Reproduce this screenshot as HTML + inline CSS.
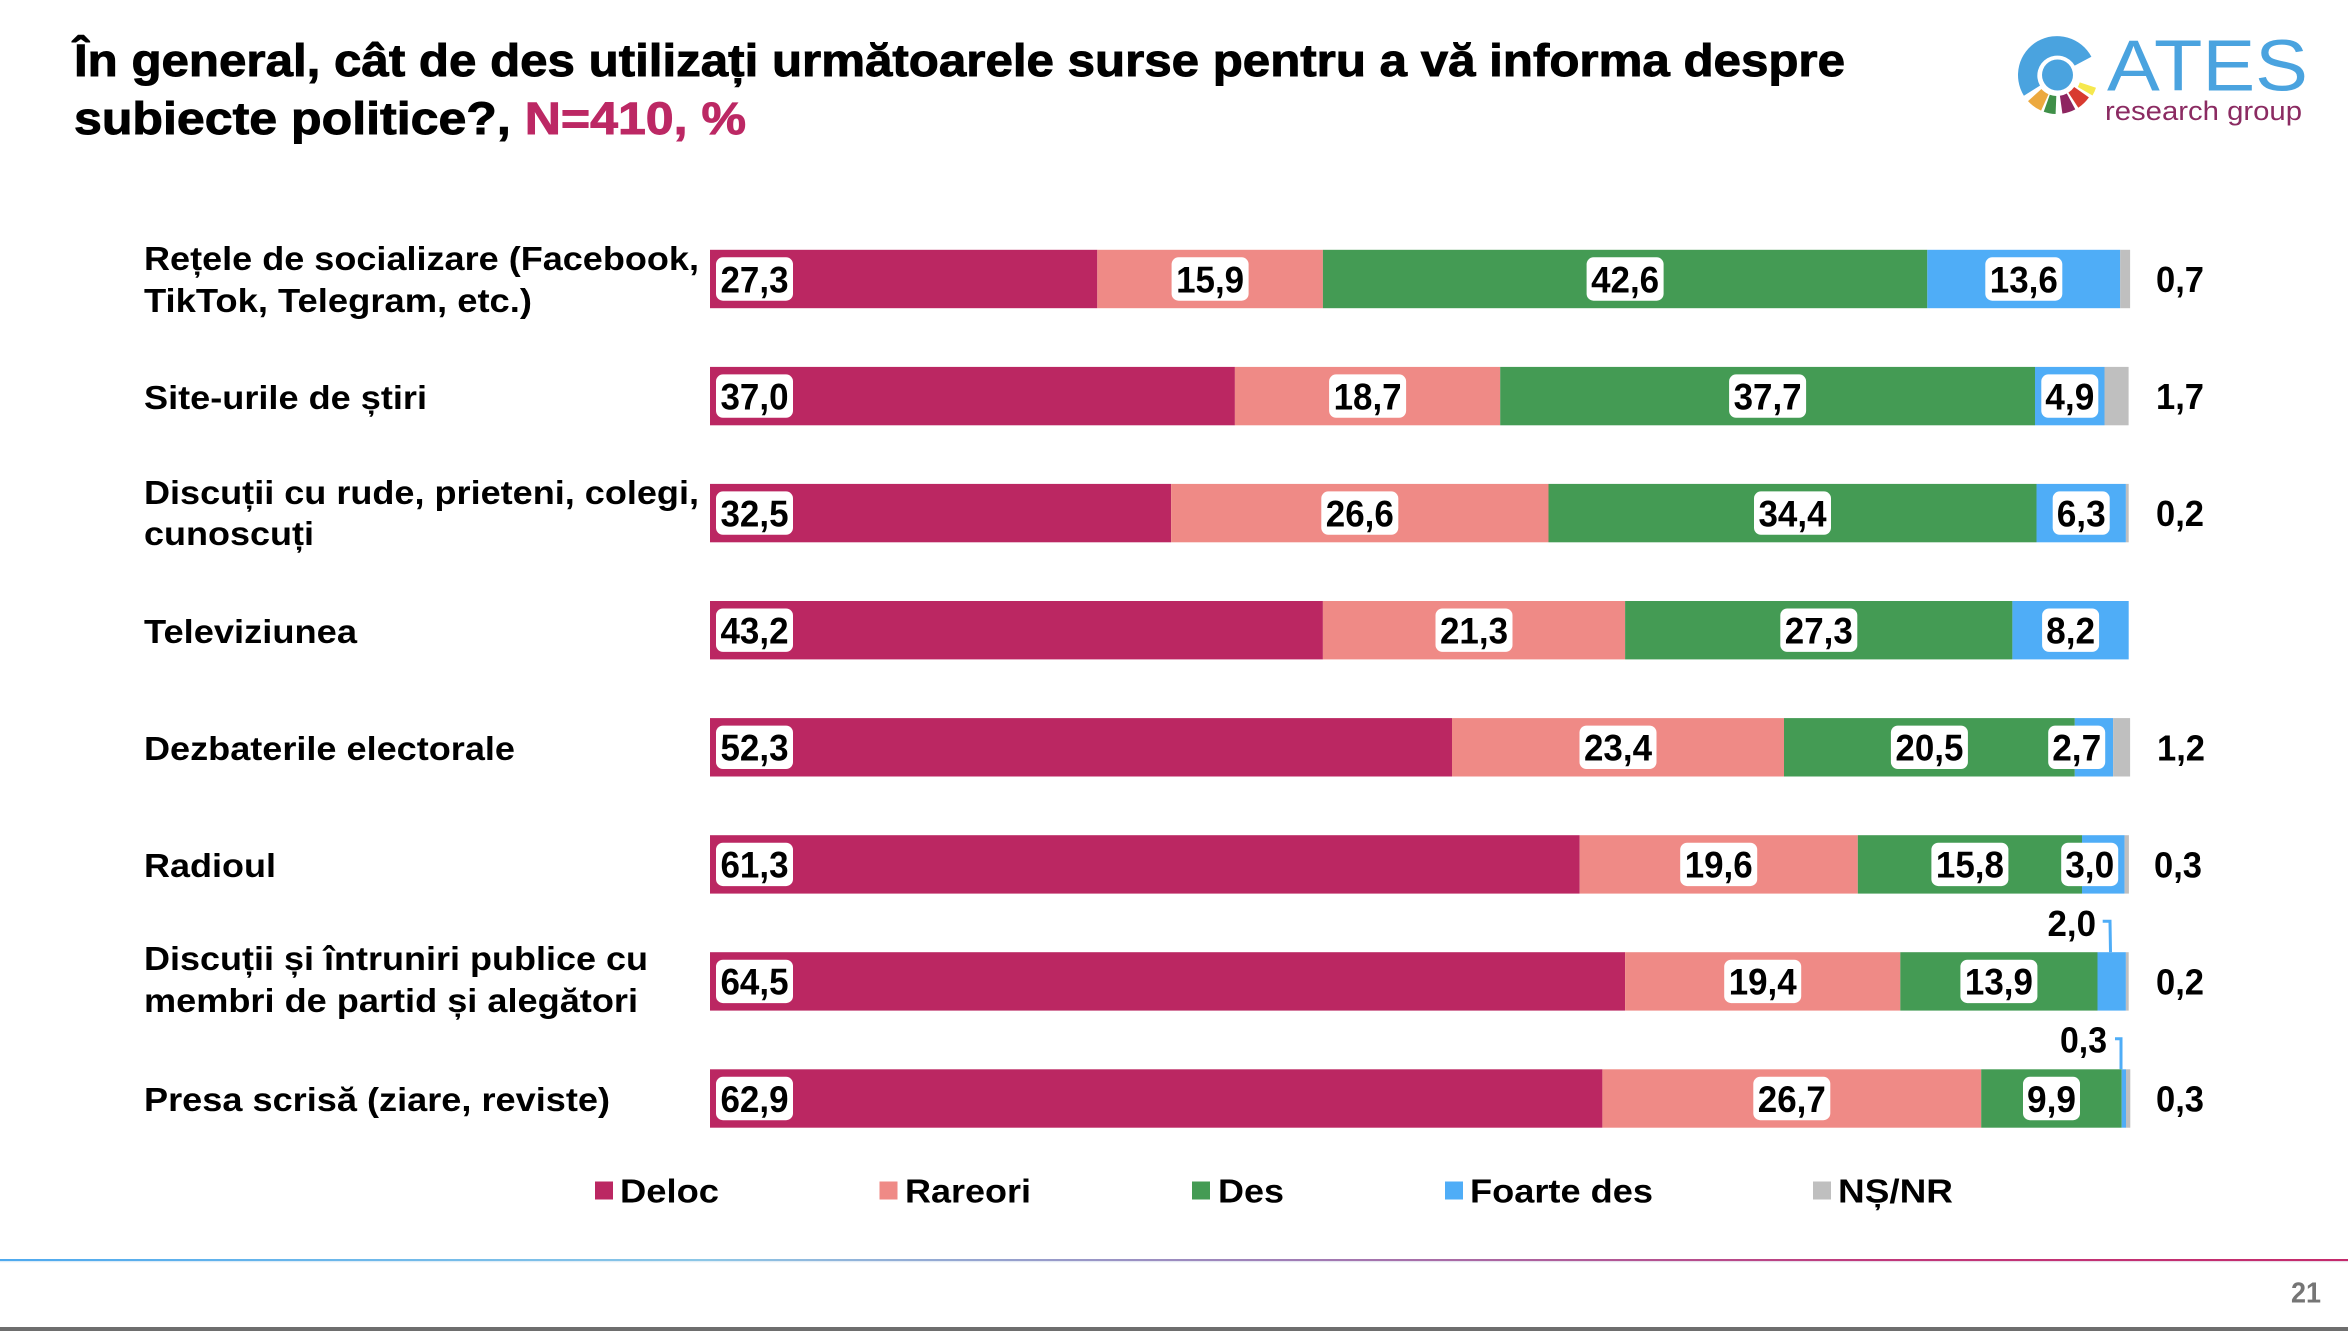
<!DOCTYPE html>
<html>
<head>
<meta charset="utf-8">
<style>
html,body{margin:0;padding:0;background:#fff;}
body{width:2348px;height:1331px;overflow:hidden;}
svg{display:block;}
text{font-family:"Liberation Sans",Arial,sans-serif;}
.b{font-weight:bold;}
</style>
</head>
<body>
<svg width="2348" height="1331" viewBox="0 0 2348 1331" xmlns="http://www.w3.org/2000/svg">
<defs>
<linearGradient id="lg" x1="0" y1="0" x2="1" y2="0">
<stop offset="0" stop-color="#4EA9EE"/>
<stop offset="0.3" stop-color="#8CC6E6"/>
<stop offset="0.55" stop-color="#A07DB5"/>
<stop offset="0.8" stop-color="#C0387A"/>
<stop offset="1" stop-color="#C42A6B"/>
</linearGradient>
</defs>

<!-- Title -->
<text class="b" x="74" y="76" font-size="45" fill="#000" stroke="#000" stroke-width="0.9" textLength="1771" lengthAdjust="spacingAndGlyphs">În general, cât de des utilizați următoarele surse pentru a vă informa despre</text>
<text class="b" x="74" y="134" font-size="45" fill="#000" stroke="#000" stroke-width="0.9" textLength="672" lengthAdjust="spacingAndGlyphs">subiecte politice?, <tspan fill="#BC2864" stroke="#BC2864">N=410, %</tspan></text>

<!-- Logo -->
<path d="M 2091.4 56.7 A 39 39 0 1 0 2023.9 95.7 L 2040.0 85.6 A 20 20 0 1 1 2074.7 65.6 Z" fill="#4AA3DF"/>
<circle cx="2057.5" cy="75" r="15.5" fill="#4AA3DF"/>
<path d="M 2028.0 101.1 A 39 39 0 0 0 2041.1 110.6 L 2048.5 94.2 A 21 21 0 0 1 2041.4 89.0 Z" fill="#ECA93F"/>
<path d="M 2043.7 111.7 A 39 39 0 0 0 2055.6 114.0 L 2056.3 96.0 A 21 21 0 0 1 2049.8 94.7 Z" fill="#3F8F48"/>
<path d="M 2062.4 113.6 A 39 39 0 0 0 2075.3 109.4 L 2066.8 93.5 A 21 21 0 0 1 2059.9 95.8 Z" fill="#8E2560"/>
<path d="M 2078.3 107.7 A 39 39 0 0 0 2088.9 97.4 L 2074.2 87.0 A 21 21 0 0 1 2068.4 92.6 Z" fill="#D83A30"/>
<path d="M 2092.5 95.5 A 41 41 0 0 0 2096.0 87.7 L 2079.8 82.4 A 24 24 0 0 1 2077.8 87.0 Z" fill="#F6E84E"/>
<text x="2107" y="90.7" font-size="72" fill="#4AA3DF" textLength="201" lengthAdjust="spacingAndGlyphs">ATES</text>
<text x="2105" y="120" font-size="27" fill="#8B2B62" textLength="197" lengthAdjust="spacingAndGlyphs">research group</text>

<!-- Category labels -->
<g class="b" font-size="33" fill="#000" font-weight="bold">
<text x="144" y="270" textLength="555" lengthAdjust="spacingAndGlyphs">Rețele de socializare (Facebook,</text>
<text x="144" y="312" textLength="388" lengthAdjust="spacingAndGlyphs">TikTok, Telegram, etc.)</text>
<text x="144" y="409" textLength="283" lengthAdjust="spacingAndGlyphs">Site-urile de știri</text>
<text x="144" y="504" textLength="555" lengthAdjust="spacingAndGlyphs">Discuții cu rude, prieteni, colegi,</text>
<text x="144" y="545" textLength="170" lengthAdjust="spacingAndGlyphs">cunoscuți</text>
<text x="144" y="643" textLength="213" lengthAdjust="spacingAndGlyphs">Televiziunea</text>
<text x="144" y="760" textLength="371" lengthAdjust="spacingAndGlyphs">Dezbaterile electorale</text>
<text x="144" y="877" textLength="132" lengthAdjust="spacingAndGlyphs">Radioul</text>
<text x="144" y="970" textLength="504" lengthAdjust="spacingAndGlyphs">Discuții și întruniri publice cu</text>
<text x="144" y="1012" textLength="494" lengthAdjust="spacingAndGlyphs">membri de partid și alegători</text>
<text x="144" y="1111" textLength="466" lengthAdjust="spacingAndGlyphs">Presa scrisă (ziare, reviste)</text>
</g>

<!-- Bars -->
<g>
<rect x="710" y="249.8" width="387.3" height="58.4" fill="#BB2762"/>
<rect x="1097.3" y="249.8" width="225.6" height="58.4" fill="#EF8A86"/>
<rect x="1322.9" y="249.8" width="604.4" height="58.4" fill="#449B54"/>
<rect x="1927.3" y="249.8" width="192.9" height="58.4" fill="#4FADF7"/>
<rect x="2120.2" y="249.8" width="9.9" height="58.4" fill="#BFBFBF"/>

<rect x="710" y="366.9" width="524.9" height="58.4" fill="#BB2762"/>
<rect x="1234.9" y="366.9" width="265.3" height="58.4" fill="#EF8A86"/>
<rect x="1500.2" y="366.9" width="534.8" height="58.4" fill="#449B54"/>
<rect x="2035.0" y="366.9" width="69.5" height="58.4" fill="#4FADF7"/>
<rect x="2104.5" y="366.9" width="24.1" height="58.4" fill="#BFBFBF"/>

<rect x="710" y="483.9" width="461.1" height="58.4" fill="#BB2762"/>
<rect x="1171.1" y="483.9" width="377.4" height="58.4" fill="#EF8A86"/>
<rect x="1548.5" y="483.9" width="488.0" height="58.4" fill="#449B54"/>
<rect x="2036.5" y="483.9" width="89.4" height="58.4" fill="#4FADF7"/>
<rect x="2125.9" y="483.9" width="2.8" height="58.4" fill="#BFBFBF"/>

<rect x="710" y="601.0" width="612.9" height="58.4" fill="#BB2762"/>
<rect x="1322.9" y="601.0" width="302.2" height="58.4" fill="#EF8A86"/>
<rect x="1625.1" y="601.0" width="387.3" height="58.4" fill="#449B54"/>
<rect x="2012.4" y="601.0" width="116.3" height="58.4" fill="#4FADF7"/>

<rect x="710" y="718.1" width="742.0" height="58.4" fill="#BB2762"/>
<rect x="1452.0" y="718.1" width="332.0" height="58.4" fill="#EF8A86"/>
<rect x="1784.0" y="718.1" width="290.8" height="58.4" fill="#449B54"/>
<rect x="2074.8" y="718.1" width="38.3" height="58.4" fill="#4FADF7"/>
<rect x="2113.1" y="718.1" width="17.0" height="58.4" fill="#BFBFBF"/>

<rect x="710" y="835.2" width="869.7" height="58.4" fill="#BB2762"/>
<rect x="1579.7" y="835.2" width="278.1" height="58.4" fill="#EF8A86"/>
<rect x="1857.8" y="835.2" width="224.2" height="58.4" fill="#449B54"/>
<rect x="2082.0" y="835.2" width="42.6" height="58.4" fill="#4FADF7"/>
<rect x="2124.6" y="835.2" width="4.3" height="58.4" fill="#BFBFBF"/>

<rect x="710" y="952.2" width="915.1" height="58.4" fill="#BB2762"/>
<rect x="1625.1" y="952.2" width="275.2" height="58.4" fill="#EF8A86"/>
<rect x="1900.3" y="952.2" width="197.2" height="58.4" fill="#449B54"/>
<rect x="2097.5" y="952.2" width="28.4" height="58.4" fill="#4FADF7"/>
<rect x="2125.9" y="952.2" width="2.8" height="58.4" fill="#BFBFBF"/>

<rect x="710" y="1069.3" width="892.4" height="58.4" fill="#BB2762"/>
<rect x="1602.4" y="1069.3" width="378.8" height="58.4" fill="#EF8A86"/>
<rect x="1981.2" y="1069.3" width="140.5" height="58.4" fill="#449B54"/>
<rect x="2121.7" y="1069.3" width="4.3" height="58.4" fill="#4FADF7"/>
<rect x="2126.0" y="1069.3" width="4.3" height="58.4" fill="#BFBFBF"/>
</g>

<!-- Value label boxes -->
<g fill="#fff">
<rect x="716" y="257.3" width="77" height="43.4" rx="7"/>
<rect x="1171.6" y="257.3" width="77" height="43.4" rx="7"/>
<rect x="1586.6" y="257.3" width="77" height="43.4" rx="7"/>
<rect x="1985.3" y="257.3" width="77" height="43.4" rx="7"/>

<rect x="716" y="374.4" width="77" height="43.4" rx="7"/>
<rect x="1329.1" y="374.4" width="77" height="43.4" rx="7"/>
<rect x="1729.1" y="374.4" width="77" height="43.4" rx="7"/>
<rect x="2041.3" y="374.4" width="57" height="43.4" rx="7"/>

<rect x="716" y="491.4" width="77" height="43.4" rx="7"/>
<rect x="1321.3" y="491.4" width="77" height="43.4" rx="7"/>
<rect x="1754" y="491.4" width="77" height="43.4" rx="7"/>
<rect x="2052.7" y="491.4" width="57" height="43.4" rx="7"/>

<rect x="716" y="608.5" width="77" height="43.4" rx="7"/>
<rect x="1435.5" y="608.5" width="77" height="43.4" rx="7"/>
<rect x="1780.3" y="608.5" width="77" height="43.4" rx="7"/>
<rect x="2042.1" y="608.5" width="57" height="43.4" rx="7"/>

<rect x="716" y="725.6" width="77" height="43.4" rx="7"/>
<rect x="1579.5" y="725.6" width="77" height="43.4" rx="7"/>
<rect x="1890.9" y="725.6" width="77" height="43.4" rx="7"/>
<rect x="2048.2" y="725.6" width="57" height="43.4" rx="7"/>

<rect x="716" y="842.7" width="77" height="43.4" rx="7"/>
<rect x="1680.2" y="842.7" width="77" height="43.4" rx="7"/>
<rect x="1931.4" y="842.7" width="77" height="43.4" rx="7"/>
<rect x="2061.2" y="842.7" width="57" height="43.4" rx="7"/>

<rect x="716" y="959.7" width="77" height="43.4" rx="7"/>
<rect x="1724.2" y="959.7" width="77" height="43.4" rx="7"/>
<rect x="1960.4" y="959.7" width="77" height="43.4" rx="7"/>

<rect x="716" y="1076.8" width="77" height="43.4" rx="7"/>
<rect x="1753.3" y="1076.8" width="77" height="43.4" rx="7"/>
<rect x="2023" y="1076.8" width="57" height="43.4" rx="7"/>
</g>

<!-- Value texts -->
<g font-size="37" font-weight="bold" fill="#000" text-anchor="middle">
<text x="754.5" y="292.3" textLength="68" lengthAdjust="spacingAndGlyphs">27,3</text>
<text x="1210.1" y="292.3" textLength="68" lengthAdjust="spacingAndGlyphs">15,9</text>
<text x="1625.1" y="292.3" textLength="68" lengthAdjust="spacingAndGlyphs">42,6</text>
<text x="2023.8" y="292.3" textLength="68" lengthAdjust="spacingAndGlyphs">13,6</text>

<text x="754.5" y="409.4" textLength="68" lengthAdjust="spacingAndGlyphs">37,0</text>
<text x="1367.6" y="409.4" textLength="68" lengthAdjust="spacingAndGlyphs">18,7</text>
<text x="1767.6" y="409.4" textLength="68" lengthAdjust="spacingAndGlyphs">37,7</text>
<text x="2069.8" y="409.4" textLength="49" lengthAdjust="spacingAndGlyphs">4,9</text>

<text x="754.5" y="526.4" textLength="68" lengthAdjust="spacingAndGlyphs">32,5</text>
<text x="1359.8" y="526.4" textLength="68" lengthAdjust="spacingAndGlyphs">26,6</text>
<text x="1792.5" y="526.4" textLength="68" lengthAdjust="spacingAndGlyphs">34,4</text>
<text x="2081.2" y="526.4" textLength="49" lengthAdjust="spacingAndGlyphs">6,3</text>

<text x="754.5" y="643.5" textLength="68" lengthAdjust="spacingAndGlyphs">43,2</text>
<text x="1474" y="643.5" textLength="68" lengthAdjust="spacingAndGlyphs">21,3</text>
<text x="1818.8" y="643.5" textLength="68" lengthAdjust="spacingAndGlyphs">27,3</text>
<text x="2070.6" y="643.5" textLength="49" lengthAdjust="spacingAndGlyphs">8,2</text>

<text x="754.5" y="760.6" textLength="68" lengthAdjust="spacingAndGlyphs">52,3</text>
<text x="1618" y="760.6" textLength="68" lengthAdjust="spacingAndGlyphs">23,4</text>
<text x="1929.4" y="760.6" textLength="68" lengthAdjust="spacingAndGlyphs">20,5</text>
<text x="2076.7" y="760.6" textLength="49" lengthAdjust="spacingAndGlyphs">2,7</text>

<text x="754.5" y="877.7" textLength="68" lengthAdjust="spacingAndGlyphs">61,3</text>
<text x="1718.7" y="877.7" textLength="68" lengthAdjust="spacingAndGlyphs">19,6</text>
<text x="1969.9" y="877.7" textLength="68" lengthAdjust="spacingAndGlyphs">15,8</text>
<text x="2089.7" y="877.7" textLength="49" lengthAdjust="spacingAndGlyphs">3,0</text>

<text x="754.5" y="994.7" textLength="68" lengthAdjust="spacingAndGlyphs">64,5</text>
<text x="1762.7" y="994.7" textLength="68" lengthAdjust="spacingAndGlyphs">19,4</text>
<text x="1998.9" y="994.7" textLength="68" lengthAdjust="spacingAndGlyphs">13,9</text>

<text x="754.5" y="1111.8" textLength="68" lengthAdjust="spacingAndGlyphs">62,9</text>
<text x="1791.8" y="1111.8" textLength="68" lengthAdjust="spacingAndGlyphs">26,7</text>
<text x="2051.5" y="1111.8" textLength="49" lengthAdjust="spacingAndGlyphs">9,9</text>
</g>

<!-- Callouts -->
<g font-size="36" font-weight="bold" fill="#000">
<text x="2047.5" y="936" textLength="48.5" lengthAdjust="spacingAndGlyphs">2,0</text>
<text x="2060" y="1052.7" textLength="47" lengthAdjust="spacingAndGlyphs">0,3</text>
</g>
<polyline points="2102.7,921.3 2110,921.3 2110.5,952.2" fill="none" stroke="#4FADF7" stroke-width="3"/>
<polyline points="2115,1038.7 2121,1038.7 2121,1069.3" fill="none" stroke="#4FADF7" stroke-width="3"/>

<!-- NS/NR right values -->
<g font-size="36" font-weight="bold" fill="#000">
<text x="2156" y="292" textLength="48" lengthAdjust="spacingAndGlyphs">0,7</text>
<text x="2156" y="409.1" textLength="48" lengthAdjust="spacingAndGlyphs">1,7</text>
<text x="2156" y="526.1" textLength="48" lengthAdjust="spacingAndGlyphs">0,2</text>
<text x="2157" y="760.3" textLength="48" lengthAdjust="spacingAndGlyphs">1,2</text>
<text x="2154" y="877.4" textLength="48" lengthAdjust="spacingAndGlyphs">0,3</text>
<text x="2156" y="994.4" textLength="48" lengthAdjust="spacingAndGlyphs">0,2</text>
<text x="2156" y="1111.5" textLength="48" lengthAdjust="spacingAndGlyphs">0,3</text>
</g>

<!-- Legend -->
<rect x="595" y="1181.5" width="18" height="18" fill="#BB2762"/>
<rect x="879.5" y="1181.5" width="18" height="18" fill="#EF8A86"/>
<rect x="1192" y="1181.5" width="18" height="18" fill="#449B54"/>
<rect x="1445" y="1181.5" width="18" height="18" fill="#4FADF7"/>
<rect x="1813" y="1181.5" width="18" height="18" fill="#BFBFBF"/>
<g font-size="33" font-weight="bold" fill="#000">
<text x="620" y="1202.7" textLength="99" lengthAdjust="spacingAndGlyphs">Deloc</text>
<text x="905" y="1202.7" textLength="126" lengthAdjust="spacingAndGlyphs">Rareori</text>
<text x="1218" y="1202.7" textLength="66" lengthAdjust="spacingAndGlyphs">Des</text>
<text x="1470" y="1202.7" textLength="183" lengthAdjust="spacingAndGlyphs">Foarte des</text>
<text x="1838" y="1202.7" textLength="115" lengthAdjust="spacingAndGlyphs">NȘ/NR</text>
</g>

<!-- Footer -->
<rect x="0" y="1259" width="2348" height="2.2" fill="url(#lg)"/>
<rect x="0" y="1261.2" width="2348" height="1.2" fill="#E6EEF6" opacity="0.7"/>
<text x="2291" y="1302.7" font-size="29" font-weight="bold" fill="#757575" textLength="30" lengthAdjust="spacingAndGlyphs">21</text>
<rect x="0" y="1327" width="2348" height="4" fill="#6E6E6E"/>
</svg>
</body>
</html>
